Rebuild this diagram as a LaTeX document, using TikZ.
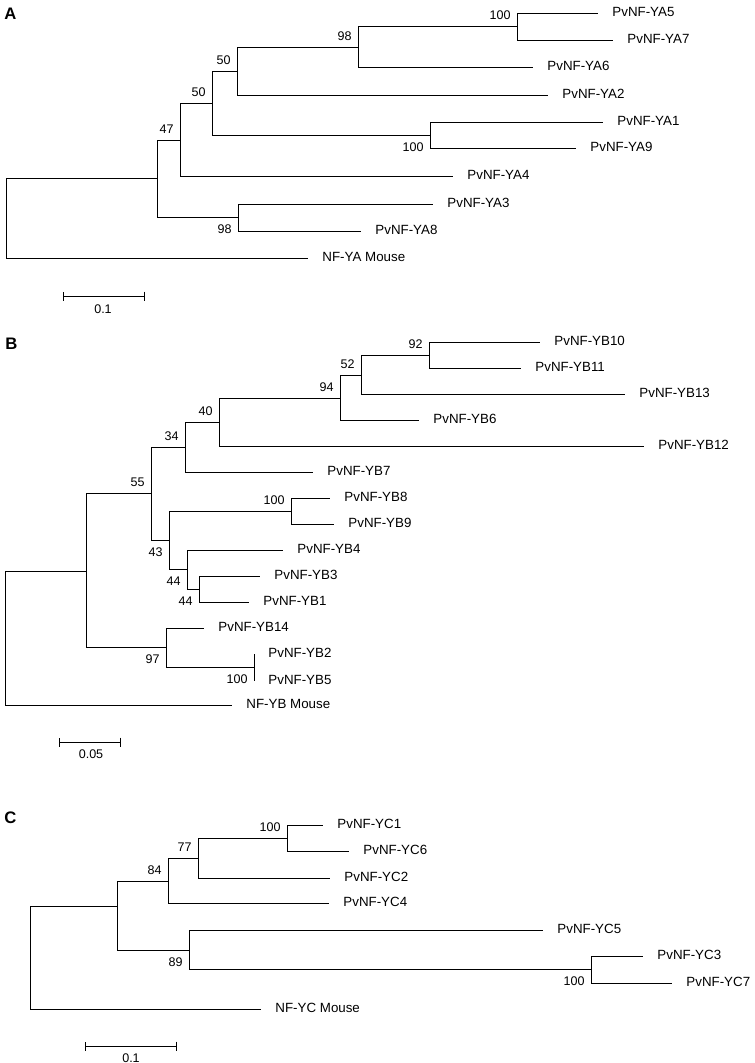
\documentclass[tikz,border=0pt]{standalone}
\usepackage{fontspec}
\setmainfont{Liberation Sans}
\usetikzlibrary{arrows.meta}

\begin{document}
\begin{tikzpicture}[x=0.75pt,y=-0.75pt,line width=0.7pt]
\tikzstyle{leaf}=[anchor=west,inner xsep=10.5pt,inner ysep=0pt,text height=7.2pt,text depth=1.5pt,font=\fontsize{10}{12}\selectfont]
\tikzstyle{boot}=[inner sep=0pt,text height=6.7pt,text depth=0pt,font=\fontsize{9.4}{11}\selectfont]
\tikzstyle{bootup}=[boot,anchor=south east,xshift=-4.5pt,yshift=4.5pt]
\tikzstyle{bootdown}=[boot,anchor=north east,xshift=-4.5pt,yshift=-5pt]
\tikzstyle{panel}=[anchor=base west,inner sep=0pt,font=\fontsize{12.5}{14}\selectfont\bfseries]
\tikzstyle{scalebar}=[{Bar[width=6.75pt]}-{Bar[width=6.75pt]}]
\useasboundingbox (0,0) rectangle (755,1063);

\node[panel] (pA) at (4,20) {A};
\node[panel] (pB) at (5,349) {B};
\node[panel] (pC) at (4,823) {C};

\coordinate (rA) at (6,218);
\coordinate (a157) at (157,178);
\coordinate (a180) at (180,140);
\coordinate (a212) at (212,103);
\coordinate (a237) at (237,71);
\coordinate (a358) at (358,47);
\coordinate (a517) at (517,26);
\coordinate (a430) at (430,135);
\coordinate (a238) at (238,217);
\node[leaf] (ya5) at (598,13) {PvNF-YA5};
\node[leaf] (ya7) at (613,40) {PvNF-YA7};
\node[leaf] (ya6) at (533,67) {PvNF-YA6};
\node[leaf] (ya2) at (548,95) {PvNF-YA2};
\node[leaf] (ya1) at (603,122) {PvNF-YA1};
\node[leaf] (ya9) at (576,148) {PvNF-YA9};
\node[leaf] (ya4) at (453,176) {PvNF-YA4};
\node[leaf] (ya3) at (433,204) {PvNF-YA3};
\node[leaf] (ya8) at (361,231) {PvNF-YA8};
\node[leaf] (mya) at (308,258) {NF-YA Mouse};

\draw (rA) |- (a157);
\draw (rA) |- (mya.west);
\draw (a157) |- (a180);
\draw (a157) |- (a238);
\draw (a180) |- (a212);
\draw (a180) |- (ya4.west);
\draw (a212) |- (a237);
\draw (a212) |- (a430);
\draw (a237) |- (a358);
\draw (a237) |- (ya2.west);
\draw (a358) |- (a517);
\draw (a358) |- (ya6.west);
\draw (a517) |- (ya5.west);
\draw (a517) |- (ya7.west);
\draw (a430) |- (ya1.west);
\draw (a430) |- (ya9.west);
\draw (a238) |- (ya3.west);
\draw (a238) |- (ya8.west);

\node[bootup] (ba180) at (a180) {47};
\node[bootup] (ba212) at (a212) {50};
\node[bootup] (ba237) at (a237) {50};
\node[bootup] (ba358) at (a358) {98};
\node[bootup] (ba517) at (a517) {100};
\node[bootdown] (ba430) at (a430) {100};
\node[bootdown] (ba238) at (a238) {98};

\coordinate (sa1) at (63,296);
\coordinate (sa2) at (145,296);
\draw[scalebar] (sa1) -- (sa2);
\node[boot] (sla) at (103,309) {0.1};

\coordinate (rB) at (5,638);
\coordinate (b86) at (86,571);
\coordinate (b151) at (151,493);
\coordinate (b185) at (185,447);
\coordinate (b219) at (219,422);
\coordinate (b340) at (340,398);
\coordinate (b361) at (361,375);
\coordinate (b429) at (429,355);
\coordinate (b169) at (169,540);
\coordinate (b291) at (291,511);
\coordinate (b187) at (187,569);
\coordinate (b199) at (199,589);
\coordinate (b166) at (166,647);
\coordinate (b254) at (254,667);
\node[leaf] (yb10) at (540,342) {PvNF-YB10};
\node[leaf] (yb11) at (521,368) {PvNF-YB11};
\node[leaf] (yb13) at (625,394) {PvNF-YB13};
\node[leaf] (yb6) at (419,420) {PvNF-YB6};
\node[leaf] (yb12) at (644,446) {PvNF-YB12};
\node[leaf] (yb7) at (313,472) {PvNF-YB7};
\node[leaf] (yb8) at (330,498) {PvNF-YB8};
\node[leaf] (yb9) at (334,524) {PvNF-YB9};
\node[leaf] (yb4) at (283,550) {PvNF-YB4};
\node[leaf] (yb3) at (260,576) {PvNF-YB3};
\node[leaf] (yb1) at (249,602) {PvNF-YB1};
\node[leaf] (yb14) at (204,628) {PvNF-YB14};
\node[leaf] (yb2) at (254,654) {PvNF-YB2};
\node[leaf] (yb5) at (254,681) {PvNF-YB5};
\node[leaf] (myb) at (232,705) {NF-YB Mouse};

\draw (rB) |- (b86);
\draw (rB) |- (myb.west);
\draw (b86) |- (b151);
\draw (b86) |- (b166);
\draw (b151) |- (b185);
\draw (b151) |- (b169);
\draw (b185) |- (b219);
\draw (b185) |- (yb7.west);
\draw (b219) |- (b340);
\draw (b219) |- (yb12.west);
\draw (b340) |- (b361);
\draw (b340) |- (yb6.west);
\draw (b361) |- (b429);
\draw (b361) |- (yb13.west);
\draw (b429) |- (yb10.west);
\draw (b429) |- (yb11.west);
\draw (b169) |- (b291);
\draw (b169) |- (b187);
\draw (b291) |- (yb8.west);
\draw (b291) |- (yb9.west);
\draw (b187) |- (yb4.west);
\draw (b187) |- (b199);
\draw (b199) |- (yb3.west);
\draw (b199) |- (yb1.west);
\draw (b166) |- (yb14.west);
\draw (b166) |- (b254);
\draw (b254) |- (yb2.west);
\draw (b254) |- (yb5.west);

\node[bootup] (bb151) at (b151) {55};
\node[bootup] (bb185) at (b185) {34};
\node[bootup] (bb219) at (b219) {40};
\node[bootup] (bb340) at (b340) {94};
\node[bootup] (bb361) at (b361) {52};
\node[bootup] (bb429) at (b429) {92};
\node[bootup] (bb291) at (b291) {100};
\node[bootdown] (bb169) at (b169) {43};
\node[bootdown] (bb187) at (b187) {44};
\node[bootdown] (bb199) at (b199) {44};
\node[bootdown] (bb166) at (b166) {97};
\node[bootdown] (bb254) at (b254) {100};

\coordinate (sb1) at (59,742);
\coordinate (sb2) at (121,742);
\draw[scalebar] (sb1) -- (sb2);
\node[boot] (slb) at (91,754) {0.05};

\coordinate (rC) at (30,958);
\coordinate (c117) at (117,906);
\coordinate (c168) at (168,881);
\coordinate (c198) at (198,858);
\coordinate (c287) at (287,838);
\coordinate (c189) at (189,950);
\coordinate (c591) at (591,969);
\node[leaf] (yc1) at (323,825) {PvNF-YC1};
\node[leaf] (yc6) at (349,851) {PvNF-YC6};
\node[leaf] (yc2) at (330,878) {PvNF-YC2};
\node[leaf] (yc4) at (329,903) {PvNF-YC4};
\node[leaf] (yc5) at (543,930) {PvNF-YC5};
\node[leaf] (yc3) at (643,956) {PvNF-YC3};
\node[leaf] (yc7) at (672,983) {PvNF-YC7};
\node[leaf] (myc) at (261,1009) {NF-YC Mouse};

\draw (rC) |- (c117);
\draw (rC) |- (myc.west);
\draw (c117) |- (c168);
\draw (c117) |- (c189);
\draw (c168) |- (c198);
\draw (c168) |- (yc4.west);
\draw (c198) |- (c287);
\draw (c198) |- (yc2.west);
\draw (c287) |- (yc1.west);
\draw (c287) |- (yc6.west);
\draw (c189) |- (yc5.west);
\draw (c189) |- (c591);
\draw (c591) |- (yc3.west);
\draw (c591) |- (yc7.west);

\node[bootup] (bc168) at (c168) {84};
\node[bootup] (bc198) at (c198) {77};
\node[bootup] (bc287) at (c287) {100};
\node[bootdown] (bc189) at (c189) {89};
\node[bootdown] (bc591) at (c591) {100};

\coordinate (sc1) at (85,1046);
\coordinate (sc2) at (177,1046);
\draw[scalebar] (sc1) -- (sc2);
\node[boot] (slc) at (131,1058) {0.1};
\end{tikzpicture}
\end{document}
